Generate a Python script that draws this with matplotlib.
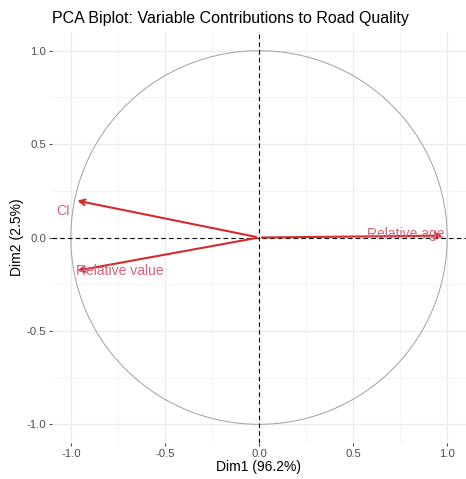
import numpy as np
import matplotlib
matplotlib.use("Agg")
import matplotlib.pyplot as plt

# variable coordinates on Dim1 / Dim2
variables = ["Relative age", "CI", "Relative value"]
dim1 = [0.99, -0.98, -0.98]
dim2 = [0.01, 0.20, -0.18]
label_x = [0.78, -1.04, -0.74]
label_y = [0.02, 0.14, -0.18]
ticks = [-1.0, -0.5, 0.0, 0.5, 1.0]

plt.rcParams['font.family'] = ['Liberation Sans', 'DejaVu Sans']

fig = plt.figure(figsize=(4.66, 4.79), dpi=100)
ax = fig.add_axes([52/466, 36/479, 414/466, 411/479])

# grid like theme_minimal
for t in ticks:
    ax.axvline(t, color='#ebebeb', lw=0.9, zorder=0)
    ax.axhline(t, color='#ebebeb', lw=0.9, zorder=0)
for t in [-0.75, -0.25, 0.25, 0.75]:
    ax.axvline(t, color='#f3f3f3', lw=0.6, zorder=0)
    ax.axhline(t, color='#f3f3f3', lw=0.6, zorder=0)

theta = np.linspace(0, 2*np.pi, 400)
ax.plot(np.cos(theta), np.sin(theta), color='#a0a0a0', lw=0.7, zorder=1)
ax.axhline(0, color='black', lw=0.8, ls=(0, (4, 3)), zorder=2)
ax.axvline(0, color='black', lw=0.8, ls=(0, (4, 3)), zorder=2)

for name, x, y, lx, ly in zip(variables, dim1, dim2, label_x, label_y):
    ax.annotate('', xy=(x, y), xytext=(0, 0),
                arrowprops=dict(arrowstyle='->', color='#d42a2a', lw=1.5,
                                mutation_scale=10), zorder=3)
    ax.text(lx, ly, name, color='#d0647e', fontsize=10, ha='center',
            va='center', zorder=4)

ax.set_xlim(-1.1, 1.1)
ax.set_ylim(-1.1, 1.1)
ax.set_xticks(ticks)
ax.set_yticks(ticks)
ax.set_xticklabels(['%.1f' % t for t in ticks])
ax.set_yticklabels(['%.1f' % t for t in ticks])
ax.tick_params(colors='#4d4d4d', labelsize=8.2, length=2.5, width=0.8, pad=1.5,
               labelcolor='#4d4d4d')
for s in ax.spines.values():
    s.set_visible(False)
ax.set_xlabel('Dim1 (96.2%)', fontsize=10, labelpad=1)
ax.set_ylabel('Dim2 (2.5%)', fontsize=10, labelpad=2)
fig.text(52/466, 1 - 18/479, 'PCA Biplot: Variable Contributions to Road Quality',
         fontsize=11.5, va='center', ha='left')

fig.savefig('out.png', dpi=100)
